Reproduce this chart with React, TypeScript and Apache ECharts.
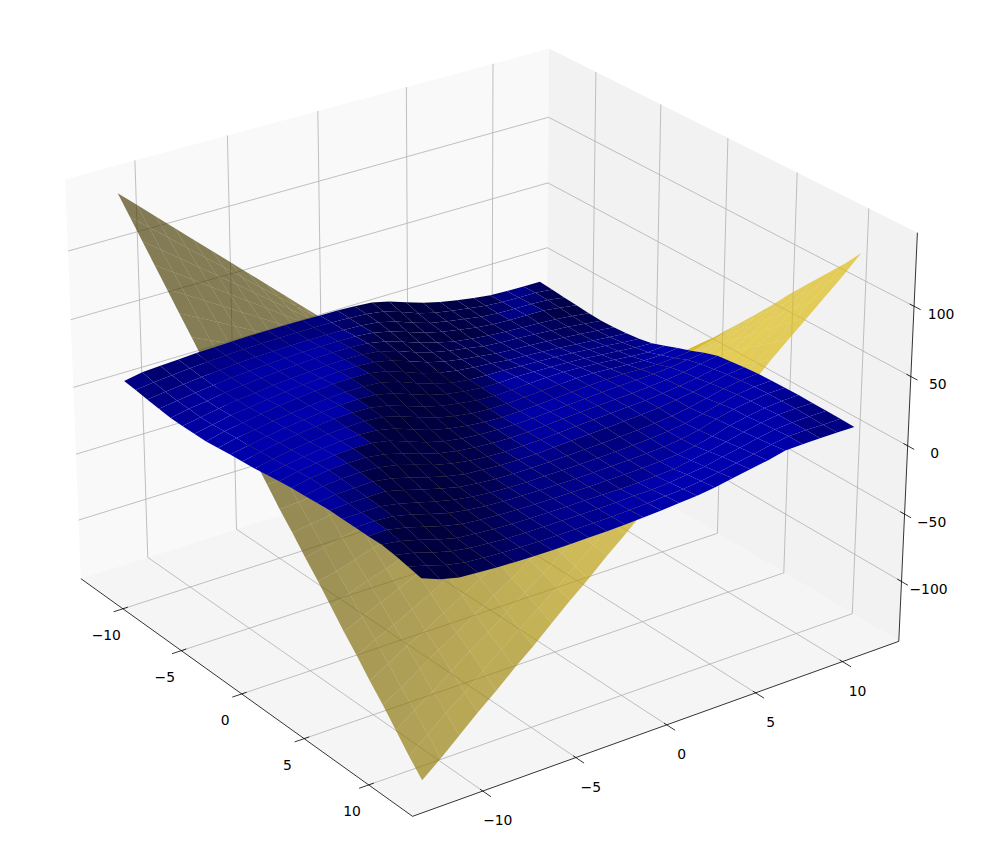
import React, { useEffect, useRef } from "react";
import * as echarts from "echarts";

const XY_TICKS = [-10, -5, 0, 5, 10];
const Z_TICKS = [-100, -50, 0, 50, 100];
const XY_MIN = -13.7;
const XY_MAX = 13.3;
const Z_MIN = -145;
const Z_MAX = 151.6;
const GRID_VALUES = [-12,-11.017,-10.033,-9.05,-8.067,-7.083,-6.1,-5.117,-4.133,-3.15,-2.167,-1.183,-0.2,0.783,1.767,2.75,3.733,4.717,5.7,6.683,7.667,8.65,9.633,10.617,11.6];

const YELLOW_Z = [
[144,132,120,108,96,84,72,60,48,36,24,12,0,-12,-23,-35,-46,-58,-70,-81,-93,-104,-116,-128,-139],
[132,121,110,99,88,77,66,55,44,33,22,11,0,-11,-21,-32,-43,-53,-64,-74,-85,-96,-106,-117,-128],
[120,110,100,90,80,70,60,50,40,30,20,10,0,-10,-19,-29,-39,-48,-58,-68,-77,-87,-97,-106,-116],
[108,99,90,81,72,63,54,45,36,27,18,9,0,-9,-17,-26,-35,-44,-52,-61,-70,-78,-87,-96,-104],
[96,88,80,72,64,56,48,40,32,24,16,8,0,-8,-15,-23,-31,-39,-46,-54,-62,-70,-77,-85,-93],
[84,77,70,63,56,49,42,35,28,21,14,7,0,-7,-14,-20,-27,-34,-41,-47,-54,-61,-68,-74,-81],
[72,66,60,54,48,42,36,30,24,18,12,6,0,-6,-12,-17,-23,-29,-35,-41,-46,-52,-58,-64,-70],
[60,55,50,45,40,35,30,25,20,15,10,5,0,-5,-10,-15,-19,-24,-29,-34,-39,-44,-48,-53,-58],
[48,44,40,36,32,28,24,20,16,12,8,4,0,-4,-8,-12,-15,-19,-23,-27,-31,-35,-39,-43,-46],
[36,33,30,27,24,21,18,15,12,9,6,3,0,-3,-6,-9,-12,-15,-17,-20,-23,-26,-29,-32,-35],
[24,22,20,18,16,14,12,10,8,6,4,2,0,-2,-4,-6,-8,-10,-12,-14,-15,-17,-19,-21,-23],
[12,11,10,9,8,7,6,5,4,3,2,1,0,-1,-2,-3,-4,-5,-6,-7,-8,-9,-10,-11,-12],
[0,0,0,0,0,0,0,0,0,0,0,0,0,0,0,0,0,0,0,0,0,0,0,0,0],
[-12,-11,-10,-9,-8,-7,-6,-5,-4,-3,-2,-1,0,1,2,3,4,5,6,7,7,8,9,10,11],
[-23,-21,-19,-17,-15,-14,-12,-10,-8,-6,-4,-2,0,2,4,6,7,9,11,13,15,17,19,21,22],
[-35,-32,-29,-26,-23,-20,-17,-15,-12,-9,-6,-3,0,3,6,8,11,14,17,20,22,25,28,31,34],
[-46,-43,-39,-35,-31,-27,-23,-19,-15,-12,-8,-4,0,4,7,11,15,19,22,26,30,34,37,41,45],
[-58,-53,-48,-44,-39,-34,-29,-24,-19,-15,-10,-5,0,5,9,14,19,23,28,33,37,42,47,51,56],
[-70,-64,-58,-52,-46,-41,-35,-29,-23,-17,-12,-6,0,6,11,17,22,28,34,39,45,50,56,62,67],
[-81,-74,-68,-61,-54,-47,-41,-34,-27,-20,-14,-7,0,7,13,20,26,33,39,46,52,59,65,72,79],
[-93,-85,-77,-70,-62,-54,-46,-39,-31,-23,-15,-8,0,7,15,22,30,37,45,52,60,67,75,82,90],
[-104,-96,-87,-78,-70,-61,-52,-44,-35,-26,-17,-9,0,8,17,25,34,42,50,59,67,76,84,93,101],
[-116,-106,-97,-87,-77,-68,-58,-48,-39,-29,-19,-10,0,9,19,28,37,47,56,65,75,84,94,103,112],
[-128,-117,-106,-96,-85,-74,-64,-53,-43,-32,-21,-11,0,10,21,31,41,51,62,72,82,93,103,113,123],
[-139,-128,-116,-104,-93,-81,-70,-58,-46,-35,-23,-12,0,11,22,34,45,56,67,79,90,101,112,123,135],
];

const BLUE_Z = [
[7.5,9.9,10.7,11.5,12.3,12.7,13.1,13.4,13.5,13.6,13.4,13.2,13,12.3,11.3,8.3,3.8,-0.4,-3.5,-6,-8.2,-9.9,-10.5,-10.7,-11],
[6.3,8.1,9.2,10.4,11.2,12.1,12.7,13,13.2,13.4,13.3,13.2,12.7,11.9,9.9,5.6,0.9,-2.7,-4.9,-7,-8.9,-9.9,-10.1,-10.4,-11.7],
[4.8,6.5,8.1,9.4,10.5,11.6,12.3,12.8,13.1,13.2,13.2,13,12.4,11,7.6,2.8,-1.3,-3.8,-6,-8,-9.3,-9.6,-9.8,-10.6,-12.5],
[3.6,5.4,7.4,8.9,10.4,11.4,12.35,13.1,13.6,13.85,13.9,13.55,12.3,9.45,5.05,0.7,-2.5,-4.9,-7,-8.4,-9.1,-9.3,-9.6,-11.3,-13.3],
[2.4,5.2,6.9,9,10.4,11.75,12.8,13.6,14.2,14.75,14.55,13.75,11.25,7.05,2.45,-1.3,-4.4,-6.3,-7.8,-8.8,-9.5,-10.1,-11,-12.3,-14.1],
[2.2,4.6,7,9.1,10.3,11.85,13,13.9,14.65,15,14.75,13.25,9.55,4.75,0.65,-2.1,-4.1,-6.6,-7.6,-8.4,-9.2,-10.2,-11.3,-12.8,-14.5],
[2.2,4.7,7.5,9.2,11,12.65,13.75,14.75,15.55,15.55,14.7,11.95,7.3,2.6,-0.8,-3,-4.65,-6.6,-7.4,-8.2,-9.1,-10.2,-11.4,-12.7,-14],
[2.3,5.6,7.8,10,12,13.5,14.7,15.9,16.2,15.8,13.4,8.9,4,0.4,-1.9,-3.5,-4.5,-6,-6.8,-7.6,-8.6,-9.8,-11,-12.2,-13.3],
[3.2,6.4,8.2,10.5,12.1,13.6,14.8,15.6,15.7,14.65,11.1,6.1,1.7,-1.55,-3.3,-4.1,-4.2,-5,-5.6,-6.2,-7.2,-8.4,-9.6,-10.9,-12],
[4.2,6.7,9.15,11.35,12.95,14.4,15.5,15.8,15.05,12.2,7.45,2.8,-0.4,-2.4,-3.8,-4.1,-3.6,-3.8,-4.2,-4.8,-5.7,-6.9,-8.1,-9.3,-10.1],
[5,7.8,10.3,12.2,13.8,15.3,15.7,15.2,12.8,8.4,3.8,0.45,-1.7,-3.5,-4.2,-3.9,-3.2,-2.7,-2.6,-3.2,-4.1,-5.3,-6.5,-7.4,-6.5],
[5.6,8.4,10.6,12.4,14,14.8,15.2,14.05,10.65,5.8,1.45,-1.5,-3.5,-4.4,-4.4,-3.8,-3,-2.3,-1.7,-1.7,-2.5,-3.5,-4.3,-4.1,-2.8],
[7,9.6,11.6,13.3,14.5,15.05,14.3,11.4,6.6,2.1,-0.95,-2.9,-4.3,-4.8,-4.5,-3.9,-3.1,-2.3,-1.6,-1,-0.9,-1.4,-1.8,-1,0.6],
[8.1,10.9,12.85,14.5,15,14.8,12.35,7.7,3,-0.35,-2.6,-3.65,-4.3,-4.6,-4.1,-3.3,-2.5,-1.7,-1,-0.4,0.1,0.6,1.7,3.2,4.55],
[9,11.8,13.6,14.3,14.15,12.5,8.9,4.5,0.7,-1.8,-3.4,-4.3,-4.6,-4.4,-3.7,-2.9,-2.1,-1.4,-0.7,-0.1,0.8,1.9,3.4,5.5,7.7],
[9.65,12,13.05,13.5,12.8,10.4,6.4,2.15,-1.05,-3.1,-4.2,-4.9,-4.7,-4.3,-3.5,-2.7,-2,-1.3,-0.6,0.1,1.3,2.8,4.7,7.2,9],
[10.3,12,12.4,12.8,10.75,7.3,3.2,-0.25,-2.95,-3.95,-4.85,-4.95,-4.85,-4.1,-3.5,-2.9,-2.3,-1.6,-0.8,0.2,1.9,3.8,6.2,8.8,10.1],
[10.8,11.45,11.65,11.65,8.25,4.5,0.9,-2.25,-3.65,-4.85,-5.1,-5.1,-5,-4.6,-4.2,-3.7,-3.1,-2.4,-1.5,-0.1,2.1,4.8,7.8,9.85,11.05],
[10.65,10.85,11.05,8.7,5.35,1.7,-1.25,-3.35,-4.55,-5.15,-5.45,-5.25,-5.3,-5.1,-4.7,-4.3,-3.7,-2.9,-1.7,0,3,6.4,9,10.8,11.3],
[10.5,10.9,9.9,6.8,2.9,-0.6,-2.65,-4.05,-4.95,-5.25,-5.45,-5.5,-5.6,-5.2,-4.9,-4.5,-3.9,-3.1,-1.6,0.8,4.75,7.85,9.95,11.4,11.6],
[10.3,10.6,7.8,4.05,0.4,-2.45,-3.8,-4.65,-5.2,-5.4,-5.55,-5.5,-5.45,-5.2,-5,-4.6,-4,-3.1,-0.9,1.95,5.8,8.3,10.4,11.5,11.75],
[10.5,8.6,5.25,1.15,-2.1,-3.45,-4.45,-5.05,-5.35,-5.5,-5.5,-5.4,-5.4,-5.55,-5.25,-4.55,-3.55,-1.45,0.75,3.7,6.7,9.25,11.1,11.55,11.6],
[9.25,6.35,2.3,-1.2,-3.25,-4.3,-5.1,-5.35,-5.5,-5.5,-5.35,-5.3,-5.05,-4.6,-4.4,-3.35,-1.85,-0.15,2.65,5.1,7.8,10.15,11.1,11.4,11.4],
[7.25,3.55,-0.5,-3.15,-4.15,-4.95,-5.3,-5.55,-5.7,-5.5,-5.3,-5.1,-4.55,-3.95,-3,-2.2,-0.75,1.5,4,6.2,8.95,10.8,11.2,11.05,11.2],
[5,0,-3.25,-4.05,-4.9,-5.4,-5.65,-5.9,-5.65,-5.5,-5.25,-4.7,-4.1,-3.3,-2.25,-1.2,0.5,2.9,5.25,7.4,10.3,10.75,11,11,11],
];

// Calibration of the 3D camera: where box corners and axis ticks sit in the picture.
const A = XY_MIN, B = XY_MAX, C = Z_MIN, D = Z_MAX;
const CALIBRATION = [
  [A,A,C,80,578],[B,A,C,413.3,816.7],[B,B,C,899.3,641.7],
  [B,B,D,915.7,233.3],[A,B,D,549,49.3],[A,A,D,65.1,178.3],
  [-10,A,C,123.3,609],[-5,A,C,181.7,651],[0,A,C,242.7,694.3],[5,A,C,305,739.3],[10,A,C,369.3,785.7],
  [B,-10,C,481.7,790.7],[B,-5,C,575,757.7],[B,0,C,665,724.3],[B,5,C,754,692.3],[B,10,C,840.7,661],
  [B,B,-100,903,581.3],[B,B,-50,906,514.3],[B,B,0,909.3,445.3],[B,B,50,911.7,376.3],[B,B,100,914.3,306.3],
  [A,-10,D,134.7,160],[A,-5,D,227.7,135.3],[A,0,D,317.9,111],[A,5,D,406.4,87],[A,10,D,492.5,64.3],
];

const NX = 13.5, NZ = 148;
function solveCamera(): number[] {
  const n = 11;
  const M = Array.from({ length: n }, () => new Array(n + 1).fill(0));
  const add = (r: number[], t: number) => {
    for (let i = 0; i < n; i++) {
      for (let j = 0; j < n; j++) M[i][j] += r[i] * r[j];
      M[i][n] += r[i] * t;
    }
  };
  for (const [X, Y, Z, px, py] of CALIBRATION) {
    const a = X / NX, b = Y / NX, c = Z / NZ, x = px / 1000, y = py / 1000;
    add([a, b, c, 1, 0, 0, 0, 0, -x * a, -x * b, -x * c], x);
    add([0, 0, 0, 0, a, b, c, 1, -y * a, -y * b, -y * c], y);
  }
  for (let i = 0; i < n; i++) {
    let p = i;
    for (let r = i + 1; r < n; r++) if (Math.abs(M[r][i]) > Math.abs(M[p][i])) p = r;
    [M[i], M[p]] = [M[p], M[i]];
    for (let r = 0; r < n; r++) {
      if (r === i) continue;
      const m = M[r][i] / M[i][i];
      for (let c = i; c <= n; c++) M[r][c] -= m * M[i][c];
    }
  }
  return M.map((row, i) => row[n] / row[i]);
}
const CAM = solveCamera();
function depth(X: number, Y: number, Z: number) {
  return CAM[8] * X / NX + CAM[9] * Y / NX + CAM[10] * Z / NZ + 1;
}
function project(X: number, Y: number, Z: number): [number, number] {
  const a = X / NX, b = Y / NX, c = Z / NZ;
  const w = depth(X, Y, Z);
  return [
    (1000 * (CAM[0] * a + CAM[1] * b + CAM[2] * c + CAM[3])) / w,
    (1000 * (CAM[4] * a + CAM[5] * b + CAM[6] * c + CAM[7])) / w,
  ];
}

type Seg = [number, number, number, number, number, number];
const gridSegs: Seg[] = [];
for (const t of XY_TICKS) {
  gridSegs.push([t, A, C, t, B, C], [A, t, C, B, t, C]);
  gridSegs.push([A, t, C, A, t, D], [t, B, C, t, B, D]);
}
for (const t of Z_TICKS) {
  gridSegs.push([A, A, t, A, B, t], [A, B, t, B, B, t]);
}
const axisSegs: Seg[] = [
  [A, A, C, B, A, C],
  [B, A, C, B, B, C],
  [B, B, C, B, B, D],
];
const tickSegs: Seg[] = [];
for (const t of XY_TICKS) {
  tickSegs.push([t, A - 0.5, C, t, A + 0.27, C]);
  tickSegs.push([B + 0.6, t, C, B - 0.2, t, C]);
}
for (const t of Z_TICKS) tickSegs.push([B + 0.45, B, t, B - 0.3, B, t]);

const fmt = (v: number) => (v < 0 ? "\u2212" + Math.abs(v) : String(v));
const labels: [string, number, number][] = [];
for (const t of XY_TICKS) {
  const a = project(t, A, C);
  labels.push([fmt(t), a[0] - 16.6, a[1] + 26]);
  const b = project(B, t, C);
  labels.push([fmt(t), b[0] + 15, b[1] + 29]);
}
for (const t of Z_TICKS) {
  const c = project(B, B, t);
  labels.push([fmt(t), c[0] + 27, c[1] + 7.5]);
}

const panes = [
  { fill: "#f9f9f9", corners: [[A,A,C],[A,B,C],[A,B,D],[A,A,D]] },
  { fill: "#f2f2f2", corners: [[A,B,C],[B,B,C],[B,B,D],[A,B,D]] },
  { fill: "#f5f5f5", corners: [[A,A,C],[B,A,C],[B,B,C],[A,B,C]] },
];

function modifier(zu: number, zv: number) {
  const n = Math.sqrt(zu * zu + zv * zv + 1);
  const s = (0.6667 * zu + 0.6667 * zv + 0.3333) / n;
  return 0.3 + 0.7 * ((s + 1) / 2);
}

function surfaceSeries(zs: number[][], base: number[], alpha: number, z: number) {
  const cells: number[][] = [];
  for (let i = 0; i < zs.length - 1; i++) {
    for (let j = 0; j < zs[i].length - 1; j++) {
      const d = depth(
        (GRID_VALUES[i] + GRID_VALUES[i + 1]) / 2,
        (GRID_VALUES[j] + GRID_VALUES[j + 1]) / 2,
        (zs[i][j] + zs[i + 1][j + 1]) / 2
      );
      cells.push([i, j, d]);
    }
  }
  cells.sort((a, b) => b[2] - a[2]);
  return {
    type: "custom",
    coordinateSystem: "cartesian2d",
    silent: true,
    clip: false,
    z,
    progressive: 0,
    data: cells,
    renderItem: (_: any, api: any) => {
      const i = api.value(0), j = api.value(1);
      const corners = [[i, j], [i + 1, j], [i + 1, j + 1], [i, j + 1]];
      const points = corners.map(([a, b]) =>
        api.coord(project(GRID_VALUES[a], GRID_VALUES[b], zs[a][b]))
      );
      const du = GRID_VALUES[i + 1] - GRID_VALUES[i];
      const dv = GRID_VALUES[j + 1] - GRID_VALUES[j];
      const zu = (zs[i + 1][j] + zs[i + 1][j + 1] - zs[i][j] - zs[i][j + 1]) / (2 * du);
      const zv = (zs[i][j + 1] + zs[i + 1][j + 1] - zs[i][j] - zs[i + 1][j]) / (2 * dv);
      const m = modifier(zu, zv);
      const fill = `rgba(${Math.round(base[0] * m)},${Math.round(base[1] * m)},${Math.round(base[2] * m)},${alpha})`;
      return { type: "polygon", shape: { points }, style: { fill, stroke: "none", lineWidth: 0 } };
    },
  };
}

function segSeries(list: Seg[], stroke: string, lineWidth: number, z: number) {
  return {
    type: "custom",
    coordinateSystem: "cartesian2d",
    silent: true,
    clip: false,
    z,
    progressive: 0,
    data: list,
    renderItem: (_: any, api: any) => {
      const a = api.coord(project(api.value(0), api.value(1), api.value(2)));
      const b = api.coord(project(api.value(3), api.value(4), api.value(5)));
      return { type: "line", shape: { x1: a[0], y1: a[1], x2: b[0], y2: b[1] }, style: { stroke, lineWidth } };
    },
  };
}

export default function App() {
  const ref = useRef<HTMLDivElement>(null);
  useEffect(() => {
    const chart = echarts.init(ref.current!, undefined, { renderer: "svg" });
    chart.setOption({
      animation: false,
      backgroundColor: "#ffffff",
      grid: { left: 0, right: 0, top: 0, bottom: 0 },
      xAxis: { type: "value", min: 0, max: 1000, show: false },
      yAxis: { type: "value", min: 0, max: 857, inverse: true, show: false },
      series: [
        {
          type: "custom",
          coordinateSystem: "cartesian2d",
          silent: true,
          clip: false,
          z: 1,
          data: panes.map((_, i) => [i]),
          renderItem: (_: any, api: any) => {
            const p = panes[api.value(0)];
            const points = p.corners.map((c) => api.coord(project(c[0], c[1], c[2])));
            return { type: "polygon", shape: { points }, style: { fill: p.fill, stroke: "none" } };
          },
        },
        segSeries(gridSegs, "#b0b0b0", 0.8, 2),
        segSeries(axisSegs, "#000000", 0.8, 3),
        segSeries(tickSegs, "#000000", 0.8, 3),
        surfaceSeries(YELLOW_Z, [222, 187, 12], 0.67, 4),
        surfaceSeries(BLUE_Z, [0, 0, 175], 1, 5),
        {
          type: "custom",
          coordinateSystem: "cartesian2d",
          silent: true,
          clip: false,
          z: 6,
          data: labels.map((_, i) => [i]),
          renderItem: (_: any, api: any) => {
            const l = labels[api.value(0)];
            const c = api.coord([l[1], l[2]]);
            return {
              type: "text",
              x: c[0],
              y: c[1],
              style: {
                text: l[0],
                fill: "#000000",
                font: '13.9px "DejaVu Sans"',
                align: "center",
                verticalAlign: "middle",
              },
            };
          },
        },
      ],
    });
    return () => chart.dispose();
  }, []);
  return (
    <div
      ref={ref}
      style={{ position: "fixed", left: 0, top: 0, width: 1000, height: 857, background: "#fff" }}
    />
  );
}
